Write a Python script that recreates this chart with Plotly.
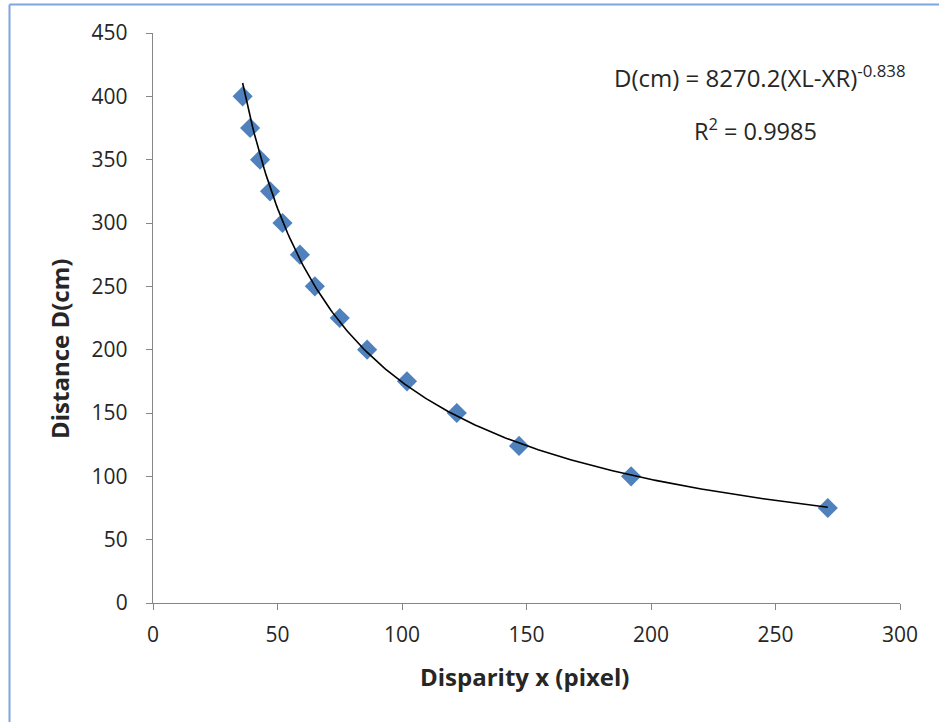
import numpy as np
import plotly.graph_objects as go

disparity_px = [36, 39, 43, 47, 52, 59, 65, 75, 86, 102, 122, 147, 192, 271]
distance_cm = [400, 375, 350, 325, 300, 275, 250, 225, 200, 175, 150, 124, 100, 75]
trend_coef = 8270.2
trend_exp = -0.838
r_squared = 0.9985
x_ticks = [0, 50, 100, 150, 200, 250, 300]
y_ticks = [0, 50, 100, 150, 200, 250, 300, 350, 400, 450]

FONT = "Open Sans"
TXT = "#262626"

tx = np.linspace(min(disparity_px), max(disparity_px), 300)
ty = trend_coef * tx ** trend_exp

fig = go.Figure()
fig.add_trace(go.Scatter(
    x=disparity_px, y=distance_cm, mode="markers",
    marker=dict(symbol="diamond", size=15.5, color="#4F81BD", line=dict(width=0)),
    showlegend=False, hoverinfo="x+y"))
fig.add_trace(go.Scatter(
    x=tx, y=ty, mode="lines", line=dict(color="black", width=1.6),
    showlegend=False, hoverinfo="skip"))

L, R, T, B = 153, 39, 33, 119
W, H = 939, 722
pw, ph = W - L - R, H - T - B

def px2x(px):
    return (px - L) / pw

def py2y(py):
    return (H - B - py) / ph

axis_common = dict(
    showgrid=False, zeroline=False, showline=True, linecolor="#868686", linewidth=1.3,
    ticks="outside", ticklen=6, tickcolor="#868686", tickwidth=1.3,
    tickfont=dict(family=FONT, size=21, color=TXT),
)

def ann(px, py, text, size, angle=0):
    return dict(x=px2x(px), y=py2y(py), xref="paper", yref="paper", showarrow=False,
                xanchor="center", yanchor="middle", textangle=angle, text=text,
                font=dict(family=FONT, size=size, color=TXT))

fig.update_layout(
    width=W, height=H,
    margin=dict(l=L, r=R, t=T, b=B, autoexpand=False),
    paper_bgcolor="white", plot_bgcolor="white",
    xaxis=dict(range=[0, 300], tickvals=x_ticks, ticklabelstandoff=7, **axis_common),
    yaxis=dict(range=[0, 450], tickvals=y_ticks, ticklabelstandoff=14, **axis_common),
    annotations=[
        ann(525, 676, "<b>Disparity x (pixel)</b>", 24),
        ann(60, 349, "<b>Distance D(cm)</b>", 24, -90),
        ann(760, 76, "D(cm) = %.1f(XL-XR)<sup>%.3f</sup>" % (trend_coef, trend_exp), 24),
        ann(755, 129, "R<sup>2</sup> = %.4f" % r_squared, 23.5),
    ],
    shapes=[
        dict(type="line", xref="paper", yref="paper", x0=px2x(9.5), x1=px2x(960), y0=py2y(4.5), y1=py2y(4.5),
             line=dict(color="#7EA6E0", width=2)),
        dict(type="line", xref="paper", yref="paper", x0=px2x(9.5), x1=px2x(9.5), y0=py2y(4.5), y1=py2y(760),
             line=dict(color="#7EA6E0", width=2)),
    ],
)

fig.write_html("out.html", config={"displayModeBar": False},
               post_script="document.body.style.margin='0px';")
